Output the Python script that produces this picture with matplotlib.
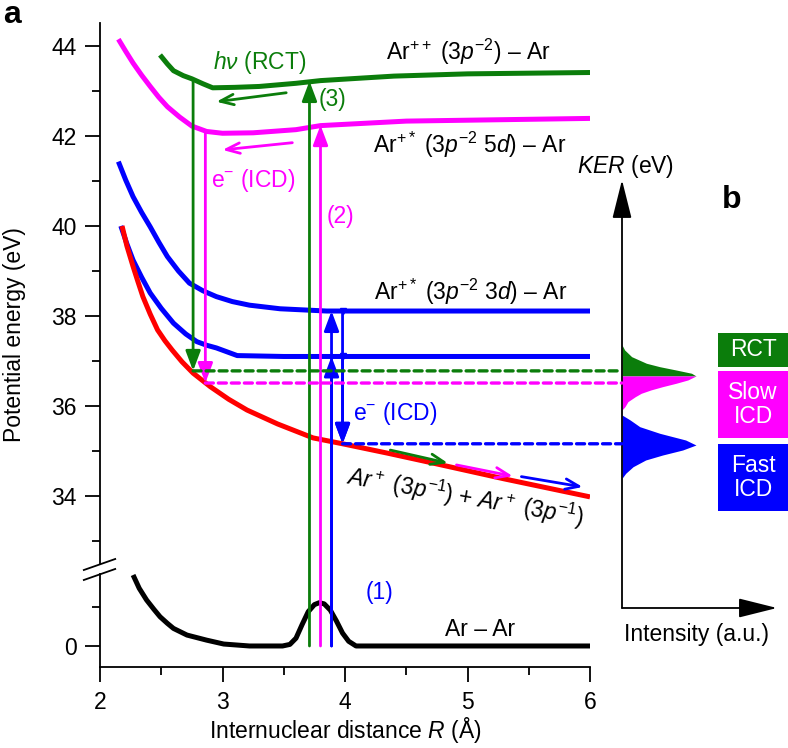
import numpy as np
import matplotlib.pyplot as plt
from matplotlib.patches import Rectangle, ConnectionPatch

plt.rcParams['font.family'] = ['Liberation Sans', 'DejaVu Sans']
plt.rcParams['mathtext.fontset'] = 'custom'
plt.rcParams['mathtext.rm'] = 'Liberation Sans'
plt.rcParams['mathtext.it'] = 'Liberation Sans:italic'
plt.rcParams['mathtext.bf'] = 'Liberation Sans:bold'

GREEN = '#0b7d0b'
MAGENTA = '#ff00ff'
BLUE = '#0000ff'
RED = '#ff0000'

# potential energy curves, R in Angstrom, E in eV
R_rct = [2.49, 2.55, 2.6, 2.68, 2.75, 2.84, 2.92, 3.1, 3.3, 3.6, 3.8, 4.4, 5.0, 6.0]
E_rct = [43.8, 43.6, 43.45, 43.34, 43.27, 43.16, 43.07, 43.08, 43.1, 43.17, 43.23, 43.33, 43.38, 43.41]

R_5d = [2.15, 2.21, 2.27, 2.34, 2.41, 2.48, 2.55, 2.65, 2.75, 2.87, 3.0, 3.25, 3.6, 3.8, 4.5, 6.0]
E_5d = [44.15, 43.88, 43.62, 43.35, 43.1, 42.86, 42.65, 42.42, 42.22, 42.1, 42.06, 42.07,
        42.14, 42.23, 42.33, 42.39]

R_3d_a = [2.15, 2.21, 2.27, 2.34, 2.41, 2.48, 2.55, 2.64, 2.73, 2.84, 2.95, 3.08, 3.22, 3.47, 3.85, 6.0]
E_3d_a = [41.43, 41.02, 40.65, 40.3, 39.98, 39.64, 39.32, 39.0, 38.73, 38.56, 38.43, 38.32,
          38.24, 38.16, 38.11, 38.11]

R_3d_b = [2.17, 2.22, 2.27, 2.34, 2.41, 2.5, 2.6, 2.7, 2.79, 2.87, 2.95, 3.12, 3.5, 6.0]
E_3d_b = [40.0, 39.6, 39.24, 38.86, 38.51, 38.17, 37.84, 37.6, 37.43, 37.35, 37.29, 37.12, 37.1, 37.1]

R_ion = [2.18, 2.22, 2.27, 2.31, 2.35, 2.41, 2.47, 2.53, 2.59, 2.67, 2.76, 2.9, 3.05, 3.2,
         3.45, 3.74, 3.98, 4.35, 4.72, 5.3, 6.0]
E_ion = [40.0, 39.55, 39.1, 38.76, 38.43, 38.04, 37.69, 37.45, 37.24, 36.98, 36.73, 36.43,
         36.15, 35.91, 35.6, 35.29, 35.16, 34.95, 34.73, 34.38, 33.98]

# ground state Ar-Ar and vibrational wave function (lower, broken part of the axis)
R_gs = [2.27, 2.32, 2.38, 2.44, 2.49, 2.55, 2.6, 2.71, 2.87, 3.01, 3.22, 3.49, 3.55, 3.6,
        3.65, 3.7, 3.75, 3.79, 3.83, 3.88, 3.93, 3.98, 4.03, 4.09, 6.0]
V_gs = [1.82, 1.48, 1.18, 0.94, 0.75, 0.58, 0.45, 0.28, 0.15, 0.05, 0.0, 0.0, 0.04, 0.2,
        0.55, 0.88, 1.06, 1.11, 1.08, 0.92, 0.64, 0.33, 0.12, 0.0, 0.0]

# excitation arrows from the ground state
up_R = [3.71, 3.80, 3.89, 3.89]
up_E = [43.22, 42.24, 38.11, 37.10]
up_col = [GREEN, MAGENTA, BLUE, BLUE]

# decay arrows
down_R = [2.76, 2.86, 3.98, 3.98]
down_E0 = [43.24, 42.10, 38.11, 37.10]
down_E1 = [36.78, 36.51, 35.16, 35.16]
down_col = [GREEN, MAGENTA, BLUE, BLUE]

# final energies carried over to the KER panel
ker_R = [2.76, 2.86, 3.98]
ker_E = [36.78, 36.51, 35.16]
ker_col = [GREEN, MAGENTA, BLUE]

# small arrows (R0, E0, R1, E1)
small_arrows = [
    (3.52, 42.96, 2.95, 42.76, GREEN),
    (3.57, 41.85, 3.00, 41.69, MAGENTA),
    (4.37, 35.02, 4.84, 34.73, GREEN),
    (4.91, 34.69, 5.37, 34.44, MAGENTA),
    (5.44, 34.43, 5.94, 34.20, BLUE),
]

# KER distributions, panel b
rct_E = [37.356, 37.244, 37.096, 36.949, 36.873, 36.8, 36.727, 36.667]
rct_I = [0.0, 0.036, 0.13, 0.33, 0.51, 0.73, 0.94, 1.0]
slow_E = [36.667, 36.578, 36.504, 36.43, 36.356, 36.282, 36.207, 36.096, 35.985, 35.911]
slow_I = [1.0, 0.89, 0.73, 0.55, 0.39, 0.26, 0.18, 0.08, 0.04, 0.0]
fast_E = [35.8, 35.689, 35.54, 35.393, 35.244, 35.133, 35.022, 34.911, 34.8,
          34.651, 34.504, 34.393]
fast_I = [0.0, 0.11, 0.24, 0.51, 0.86, 1.0, 0.82, 0.55, 0.32, 0.15, 0.05, 0.0]

YLIM = (30.2, 44.51)
E0_LOWER = 30.667      # where 0 of the lower part sits
LOWER_SCALE = 0.8667   # lower units -> upper eV


def lower(v):
    return E0_LOWER + LOWER_SCALE * np.asarray(v, dtype=float)


def arrow(ax, x0, y0, x1, y1, color, style='-|>', lw=2.0, ms=15, hl=0.8, hw=0.3):
    ax.annotate('', xy=(x1, y1), xytext=(x0, y0),
                arrowprops=dict(arrowstyle=f'{style},head_length={hl},head_width={hw}',
                                color=color, lw=lw, shrinkA=0, shrinkB=0,
                                mutation_scale=ms))


fs = 16.5
fig = plt.figure(figsize=(7.88, 7.48), dpi=100)
ax = fig.add_axes([100 / 788, 1 - 667 / 748, 490 / 788, 644 / 748])
axb = fig.add_axes([622 / 788, 1 - 667 / 748, 155 / 788, 644 / 748])

# curves
cw = dict(lw=3.6, solid_capstyle='butt', solid_joinstyle='round')
ax.plot(R_rct, E_rct, color=GREEN, **cw)
ax.plot(R_5d, E_5d, color=MAGENTA, **cw)
ax.plot(R_3d_a, E_3d_a, color=BLUE, **cw)
ax.plot(R_3d_b, E_3d_b, color=BLUE, **cw)
ax.plot(R_ion, E_ion, color=RED, **cw)
ax.plot(R_gs, lower(V_gs), color='k', **cw)

# vertical transitions
for r, e, c in zip(up_R, up_E, up_col):
    arrow(ax, r, float(lower(0)), r, e, c)
for r, e0, e1, c in zip(down_R, down_E0, down_E1, down_col):
    arrow(ax, r, e0, r, e1, c)
ax.plot([3.98, 3.98], [38.11, 37.10], ls='none', marker='v', ms=5, color=BLUE)

for r0, e0, r1, e1, c in small_arrows:
    arrow(ax, r0, e0, r1, e1, c, style='->', lw=2.0, ms=15, hl=0.65, hw=0.25)

# dashed lines to panel b
for r, e, c in zip(ker_R, ker_E, ker_col):
    con = ConnectionPatch(xyA=(r, e), coordsA=ax.transData, xyB=(0, e), coordsB=axb.transData,
                          color=c, lw=2.4, linestyle=(0, (2.4, 1.5)))
    fig.add_artist(con)

# labels on the plot
ax.text(2.92, 43.64, r'$h\nu$ (RCT)', color=GREEN, fontsize=fs, ha='left', va='center')
ax.text(5.01, 43.87, r'Ar$^{++}$ (3$p^{-2}$) – Ar', fontsize=fs, ha='center', va='center')
ax.text(3.9, 42.8, '(3)', color=GREEN, fontsize=fs, ha='center', va='center')
ax.text(5.02, 41.8, r'Ar$^{+*}$ (3$p^{-2}$ 5$d$) – Ar', fontsize=fs, ha='center', va='center')
ax.text(2.91, 41.02, r'e$^{-}$ (ICD)', color=MAGENTA, fontsize=fs, ha='left', va='center')
ax.text(3.96, 40.2, '(2)', color=MAGENTA, fontsize=fs, ha='center', va='center')
ax.text(5.03, 38.53, r'Ar$^{+*}$ (3$p^{-2}$ 3$d$) – Ar', fontsize=fs, ha='center', va='center')
ax.text(4.41, 35.84, r'e$^{-}$ (ICD)', color=BLUE, fontsize=fs, ha='center', va='center')
ax.text(4.98, 33.98, r'$Ar^+$ (3$p^{-1}$) + $Ar^+$ (3$p^{-1}$)', fontsize=fs,
        ha='center', va='center', rotation=-10, rotation_mode='anchor')
ax.text(4.28, float(lower(1.36)), '(1)', color=BLUE, fontsize=fs, ha='center', va='center')
ax.text(5.1, float(lower(0.41)), 'Ar – Ar', fontsize=fs, ha='center', va='center')

# axes styling with a broken y axis
ax.set_xlim(2, 6)
ax.set_ylim(*YLIM)
ax.set_xticks([2, 3, 4, 5, 6])
ax.set_xticks([2.5, 3.5, 4.5, 5.5], minor=True)
ax.set_yticks([float(lower(0)), 34, 36, 38, 40, 42, 44],
              ['0', '34', '36', '38', '40', '42', '44'])
ax.set_yticks([float(lower(1)), 33, 35, 37, 39, 41, 43], minor=True)
ax.tick_params(which='both', direction='out', width=1.3, labelsize=fs, pad=6)
ax.tick_params(which='major', length=11)
ax.tick_params(which='minor', length=6)
for s in ['top', 'right', 'left']:
    ax.spines[s].set_visible(False)
ax.spines['bottom'].set_linewidth(1.3)
kw = dict(color='k', lw=1.3, transform=ax.transAxes, clip_on=False)
ax.plot([0, 0], [0.160, 1.0], **kw)
ax.plot([0, 0], [0.0, 0.1444], **kw)
ax.plot([-0.033, 0.031], [0.1506, 0.1677], **kw)
ax.plot([-0.033, 0.031], [0.1351, 0.1522], **kw)

ax.set_xlabel(r'Internuclear distance $R$ (Å)', fontsize=fs)
ax.xaxis.set_label_coords(0.5, -0.074)
ax.set_ylabel('Potential energy (eV)', fontsize=fs)
ax.yaxis.set_label_coords(-0.15, 0.5155)

# panel b
axb.fill_betweenx(rct_E, 0, rct_I, color=GREEN, lw=0)
axb.fill_betweenx(slow_E, 0, slow_I, color=MAGENTA, lw=0)
axb.fill_betweenx(fast_E, 0, fast_I, color=BLUE, lw=0)
axb.set_xlim(0, 155 / 74)
axb.set_ylim(*YLIM)
axb.axis('off')
E_axis = 44 - (608 - 46) / 45
E_top = 44 - (180 - 46) / 45
for xy in [(0, E_top), (1, E_axis)]:
    axb.annotate('', xy=xy, xytext=(0, E_axis),
                 xycoords=('axes fraction', 'data'), textcoords=('axes fraction', 'data'),
                 arrowprops=dict(arrowstyle='-|>,head_length=1.2,head_width=0.3', color='k',
                                 lw=1.3, shrinkA=0, shrinkB=0, mutation_scale=20))
axb.text(0.02, 44 - (167 - 46) / 45, r'$KER$ (eV)', fontsize=fs, ha='center', va='center',
         transform=axb.get_yaxis_transform())
axb.text(0.48, 44 - (635 - 46) / 45, 'Intensity (a.u.)', fontsize=fs, ha='center', va='center',
         transform=axb.get_yaxis_transform())

# legend boxes
boxes = [('RCT', GREEN, 333, 367), ('Slow\nICD', MAGENTA, 371, 438), ('Fast\nICD', BLUE, 444, 511)]
for txt, c, y0, y1 in boxes:
    fig.add_artist(Rectangle((718 / 788, 1 - y1 / 748), 70 / 788, (y1 - y0) / 748,
                             transform=fig.transFigure, color=c, lw=0))
    fig.text(753 / 788, 1 - (y0 + y1) / 2 / 748, txt, color='white', fontsize=fs,
             ha='center', va='center', linespacing=1.1)

fig.text(12 / 788, 1 - 15 / 748, 'a', fontsize=23, fontweight='bold', ha='center', va='center')
fig.text(732 / 788, 1 - 200 / 748, 'b', fontsize=23, fontweight='bold', ha='center', va='center')

fig.savefig('out.png', dpi=100)
